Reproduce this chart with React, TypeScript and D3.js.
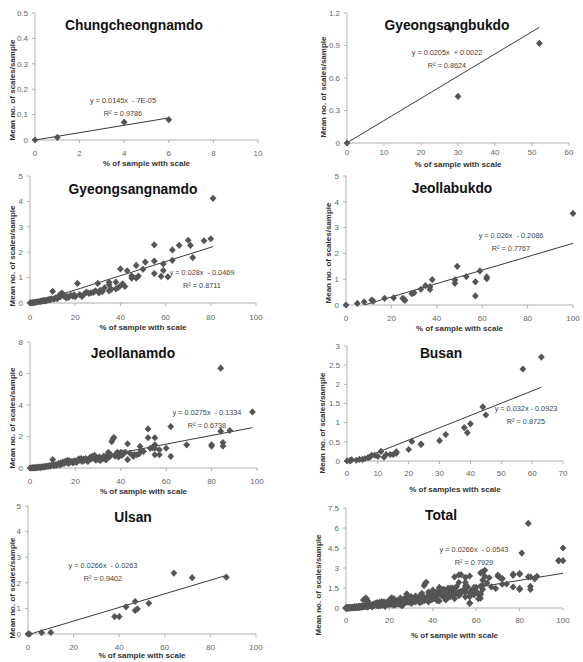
import React from "react";
import * as d3 from "d3";

// panel titles and regression labels
const titles = ["Chungcheongnamdo", "Gyeongsangbukdo", "Gyeongsangnamdo", "Jeollabukdo", "Jeollanamdo", "Busan", "Ulsan", "Total"];
const slopes = [0.0145, 0.0205, 0.028, 0.026, 0.0275, 0.032, 0.0266, 0.0266];
const intercepts = [-0.00007, 0.0022, -0.0469, -0.2086, -0.1334, -0.0923, -0.0263, -0.0543];
const eqLabels = ["y = 0.0145x  - 7E-05", "y = 0.0205x  + 0.0022", "y = 0.028x  - 0.0469", "y = 0.026x  - 0.2086", "y = 0.0275x  - 0.1334", "y = 0.032x - 0.0923", "y = 0.0266x  - 0.0263", "y = 0.0266x  - 0.0543"];
const r2Labels = ["R² = 0.9786", "R² = 0.8624", "R² = 0.8711", "R² = 0.7767", "R² = 0.6738", "R² = 0.8725", "R² = 0.9402", "R² = 0.7929"];
const xLabels = ["% of sample with scale", "% of sample with scale", "% of sample with scale", "% of sample with scale", "% of sample with scale", "% of samples with scale", "% of sample with scale", "% of sample with scale"];
const yLabel = "Mean no. of scales/sample";

// axis ticks
const xTicks = [
  [0, 2, 4, 6, 8, 10],
  [0, 10, 20, 30, 40, 50, 60],
  [0, 20, 40, 60, 80, 100],
  [0, 20, 40, 60, 80, 100],
  [0, 20, 40, 60, 80, 100],
  [0, 10, 20, 30, 40, 50, 60, 70],
  [0, 20, 40, 60, 80, 100],
  [0, 20, 40, 60, 80, 100],
];
const yTicks = [
  ["0", "0.1", "0.2", "0.3", "0.4", "0.5"],
  ["0", "0.3", "0.6", "0.9", "1.2"],
  ["0", "1", "2", "3", "4", "5"],
  ["0", "1", "2", "3", "4", "5"],
  ["0", "2", "4", "6", "8"],
  ["0", "0.5", "1", "1.5", "2", "2.5", "3"],
  ["0", "1", "2", "3", "4", "5"],
  ["0", "1.5", "3", "4.5", "6", "7.5"],
];

// points [% of sample with scale, mean no. of scales/sample]
const chungcheongnamdo = [[0, 0], [1, 0.01], [4, 0.07], [6, 0.08]];
const gyeongsangbukdo = [[0, 0], [28, 1.05], [30, 0.43], [52, 0.92]];
const gyeongsangnamdo = [
  [0, 0], [0.5, 0.01], [1, 0.01], [1.5, 0.02], [2, 0.02], [2.5, 0.03], [3, 0.04], [3.5, 0.05], [4, 0.06], [4.5, 0.05],
  [5, 0.08], [5.5, 0.07], [6, 0.09], [6.5, 0.1], [7, 0.08], [7.5, 0.11], [8, 0.12], [8.5, 0.14], [9, 0.13], [9.5, 0.16],
  [10, 0.46], [10.5, 0.15], [11, 0.18], [11.5, 0.2], [12, 0.17], [12.5, 0.22], [13, 0.31], [13.5, 0.25], [14, 0.39], [14.5, 0.35],
  [15, 0.28], [15.5, 0.29], [16, 0.2], [16.5, 0.25], [17, 0.22], [18, 0.3], [19, 0.27], [19.5, 0.32], [20, 0.25], [21, 0.77],
  [22, 0.33], [23, 0.26], [24, 0.35], [25, 0.43], [26, 0.38], [27, 0.4], [28, 0.42], [29, 0.48], [30, 0.77], [30.5, 0.4],
  [31, 0.5], [32, 0.45], [33, 0.6], [35, 0.82], [35, 0.72], [35, 0.48], [36, 0.55], [38, 0.82], [38, 0.56], [39, 0.6],
  [40, 1.34], [40, 0.68], [41, 0.75], [42, 0.65], [43, 1.27], [45, 1.07], [45, 0.98], [47, 1.48], [47, 0.98], [48, 1.06],
  [50, 1.33], [51, 1.61], [55, 2.29], [55, 1.65], [55, 1.16], [58, 1.05], [59, 1.54], [59, 1.28], [61, 1.03], [63, 2.09],
  [63, 1.68], [66, 2.27], [70, 2.47], [71, 2.27], [72, 1.79], [77, 2.45], [80, 2.53], [81, 4.12],
];
const jeollabukdo = [
  [0, 0], [5, 0.06], [8, 0.12], [11.3, 0.19], [12, 0.15], [17, 0.26], [21, 0.28], [25, 0.26], [26, 0.18], [25.5, 0.22],
  [29, 0.44], [30, 0.47], [33, 0.61], [35, 0.75], [37, 0.71], [37, 0.6], [38, 0.98], [48, 0.97], [48, 0.84], [49, 1.5],
  [53, 1.1], [57, 0.9], [57, 0.35], [59, 1.32], [62, 1.09], [62, 1.02], [100, 3.55],
];
const jeollanamdo = [
  [0, 0], [0.5, 0], [1, 0.01], [1.5, 0.02], [2, 0.01], [2.5, 0.03], [3, 0.02], [3.5, 0.04], [4, 0.05], [4.5, 0.03],
  [5, 0.06], [5.5, 0.08], [6, 0.05], [6.5, 0.1], [7, 0.08], [7.5, 0.12], [8, 0.1], [8.5, 0.15], [9, 0.12], [9.5, 0.18],
  [10, 0.53], [10.5, 0.15], [11, 0.2], [11.5, 0.17], [12, 0.22], [12.5, 0.28], [13, 0.2], [13.5, 0.32], [14, 0.25], [14.5, 0.38],
  [15, 0.3], [15.5, 0.42], [16, 0.35], [16.5, 0.48], [17, 0.3], [17.5, 0.45], [18, 0.38], [18.5, 0.4], [19, 0.33], [19.5, 0.45],
  [20, 0.4], [20.5, 0.35], [21, 0.45], [21.5, 0.58], [22, 0.5], [22.5, 0.6], [23, 0.42], [23.5, 0.55], [24, 0.48], [24.5, 0.6],
  [25, 0.5], [25.5, 0.42], [26, 0.55], [26.5, 0.68], [27, 0.58], [27.5, 0.75], [28, 0.62], [28.5, 0.8], [29, 0.5], [29.5, 0.65],
  [30, 0.55], [30.5, 0.7], [31, 0.48], [31.5, 0.62], [32, 0.58], [32.5, 0.75], [33, 0.6], [33.5, 0.52], [34, 0.8], [34.5, 1.0],
  [35, 0.7], [35.5, 0.85], [36, 1.68], [36.5, 1.85], [37, 1.93], [37.5, 0.75], [38, 0.9], [38.5, 1.0], [39, 0.7], [39.5, 0.85],
  [40, 1.0], [40.5, 0.8], [41, 0.95], [42, 1.0], [43, 1.54], [43, 0.53], [44, 0.95], [45.5, 0.74], [46, 0.85], [47, 0.84],
  [48, 0.9], [48.5, 1.37], [49, 1.1], [50, 1.05], [52, 2.48], [52, 1.92], [53, 1.25], [54, 1.3], [55, 1.92], [55, 1.47],
  [55, 1.26], [55, 0.84], [57, 1.16], [57, 0.84], [60, 1.26], [62, 2.63], [62, 0.74], [69, 1.47], [80, 1.47], [80, 1.39],
  [84, 6.34], [84, 2.34], [85, 1.62], [85, 1.39], [88, 2.38], [98, 3.56],
];
const busan = [
  [0, 0], [1, 0], [1, 0.02], [1.5, 0.03], [3, 0.02], [4, 0.04], [5, 0.04], [5.8, 0.06], [6.8, 0.09], [7.4, 0.1],
  [8, 0.15], [9, 0.15], [10, 0.12], [11, 0.25], [12, 0.1], [12.7, 0.17], [14, 0.17], [15, 0.17], [16, 0.2], [16, 0.24],
  [20, 0.3], [21, 0.51], [24, 0.43], [24, 0.44], [30, 0.53], [32, 0.69], [38, 0.87], [39, 0.74], [40, 0.97], [44, 1.41],
  [45, 1.2], [57, 2.4], [63, 2.71],
];
const ulsan = [[0, 0], [0.7, 0], [6, 0.05], [10, 0.06], [38, 0.68], [40, 0.68], [43, 1.06], [47, 1.27], [47, 0.92], [48, 0.98], [53, 1.2], [64, 2.38], [72, 2.2], [87, 2.22]];
// samples from other regions that appear only in the total
const otherRegions = [
  [2, 0.03], [3, 0.05], [4, 0.1], [6, 0.12], [8, 0.6], [9, 0.75], [9.5, 0.7], [12, 0.1], [15, 0.15], [18, 0.12],
  [20, 0.6], [22, 0.7], [22, 0.2], [24, 0.3], [25, 0.75], [26, 0.25], [27, 0.6], [28, 1.05], [30, 0.85], [30, 0.35],
  [32, 0.9], [34, 0.4], [35, 1.1], [38, 1.2], [38, 0.45], [40, 1.3], [42, 1.25], [42, 0.55], [44, 1.1], [45, 1.4],
  [46, 1.3], [46, 0.6], [48, 1.5], [50, 1.45], [50, 0.7], [50, 2.33], [52, 1.2], [53, 2.5], [55, 1.5], [56, 1.6],
  [57, 0.38], [58, 1.3], [59, 1.0], [60, 1.55], [61, 0.7], [62, 1.65], [63, 1.4], [64, 2.83], [65, 1.88], [67, 1.58],
  [70, 2.38], [72, 2.2], [74, 1.8], [77, 1.58], [77, 2.55], [80, 2.58], [85, 2.33], [87, 2.2], [98, 3.55], [100, 4.5],
];
const total = [...chungcheongnamdo, ...gyeongsangbukdo, ...gyeongsangnamdo, ...jeollabukdo, ...jeollanamdo, ...busan, ...ulsan, ...otherRegions];
const series = [chungcheongnamdo, gyeongsangbukdo, gyeongsangnamdo, jeollabukdo, jeollanamdo, busan, ulsan, total];

// layout of each panel on the page
const layout = [
  { l: 35, r: 258, t: 13, b: 140, ytx: 12, yty: 90, xty: 156, xtt: 166, tx: 134, ty: 30, ex: 123, ey: 103 },
  { l: 347, r: 569, t: 13, b: 143, ytx: 323, yty: 87, xty: 155, xtt: 167, tx: 447, ty: 30, ex: 447, ey: 55 },
  { l: 30, r: 256, t: 176, b: 303, ytx: 12, yty: 256, xty: 320, xtt: 330, tx: 133, ty: 194, ex: 202, ey: 275 },
  { l: 346, r: 573, t: 176, b: 305, ytx: 328, yty: 253, xty: 321, xtt: 331, tx: 452, ty: 193, ex: 511, ey: 238 },
  { l: 30, r: 257, t: 342, b: 468, ytx: 12, yty: 418, xty: 484, xtt: 494, tx: 133, ty: 358, ex: 207, ey: 415 },
  { l: 347, r: 563, t: 346, b: 461, ytx: 322, yty: 423, xty: 476, xtt: 492, tx: 441, ty: 358, ex: 526, ey: 411 },
  { l: 28, r: 256, t: 506, b: 634, ytx: 12, yty: 588, xty: 650, xtt: 658, tx: 133, ty: 522, ex: 103, ey: 568 },
  { l: 346, r: 563, t: 508, b: 608, ytx: 318, yty: 585, xty: 623, xtt: 638, tx: 441, ty: 520, ex: 474, ey: 552 },
];

const font = "'Liberation Sans', Arial, sans-serif";
const diamond = "M0,-3.6L3.4,0L0,3.6L-3.4,0Z";

const Panel = ({ i }: { i: number }) => {
  const p = layout[i];
  const data = series[i];
  const xt = xTicks[i];
  const yt = yTicks[i].map(Number);
  const x = d3.scaleLinear().domain([xt[0], xt[xt.length - 1]]).range([p.l, p.r]);
  const y = d3.scaleLinear().domain([yt[0], yt[yt.length - 1]]).range([p.b, p.t]);
  const [x0, x1] = d3.extent(data, (d) => d[0]) as [number, number];
  const fit = (v: number) => slopes[i] * v + intercepts[i];
  const line = d3.line<number>().x((v) => x(v)).y((v) => y(fit(v)));
  const clipId = `clip${i}`;
  return (
    <g fontFamily={font}>
      <clipPath id={clipId}>
        <rect x={p.l} y={p.t} width={p.r - p.l} height={p.b - p.t} />
      </clipPath>
      {/* axes */}
      <line x1={p.l} x2={p.l} y1={p.t} y2={p.b} stroke="#b0b0b0" />
      <line x1={p.l} x2={p.r} y1={p.b} y2={p.b} stroke="#b0b0b0" />
      {yt.map((v, k) => (
        <g key={"y" + k}>
          <line x1={p.l - 3} x2={p.l} y1={y(v)} y2={y(v)} stroke="#b0b0b0" />
          <text x={p.l - 7} y={y(v)} dy="0.35em" textAnchor="end" fontSize={8} fill="#666">{yTicks[i][k]}</text>
        </g>
      ))}
      {xt.map((v, k) => (
        <g key={"x" + k}>
          <line x1={x(v)} x2={x(v)} y1={p.b} y2={p.b + 3} stroke="#b0b0b0" />
          <text x={x(v)} y={p.xty} textAnchor="middle" fontSize={8} fill="#666">{v}</text>
        </g>
      ))}
      {/* trend line */}
      <path d={line([x0, x1]) ?? ""} fill="none" stroke="#3a3a3a" strokeWidth={1} clipPath={`url(#${clipId})`} />
      {data.map((d, k) => (
        <path key={k} d={diamond} transform={`translate(${x(d[0])},${y(d[1])})`} fill="#555" />
      ))}
      <text x={p.tx} y={p.ty} textAnchor="middle" fontSize={13.8} fontWeight="bold" fill="#111">{titles[i]}</text>
      <text x={p.ex} y={p.ey} textAnchor="middle" fontSize={7.3} fill="#444" style={{ whiteSpace: "pre" }}>{eqLabels[i]}</text>
      <text x={p.ex} y={p.ey + 13} textAnchor="middle" fontSize={7.3} fill="#444">{r2Labels[i]}</text>
      <text x={(p.l + p.r) / 2} y={p.xtt} textAnchor="middle" fontSize={8} fontWeight="bold" fill="#333">{xLabels[i]}</text>
      <text transform={`translate(${p.ytx},${p.yty}) rotate(-90)`} textAnchor="middle" fontSize={8} fontWeight="bold" fill="#333" dy="0.35em">{yLabel}</text>
    </g>
  );
};

export default function App() {
  return (
    <div style={{ position: "absolute", left: 0, top: 0 }}>
      <svg width={583} height={662} style={{ display: "block", background: "#fff" }}>
        {titles.map((_, i) => (
          <Panel key={i} i={i} />
        ))}
      </svg>
    </div>
  );
}
